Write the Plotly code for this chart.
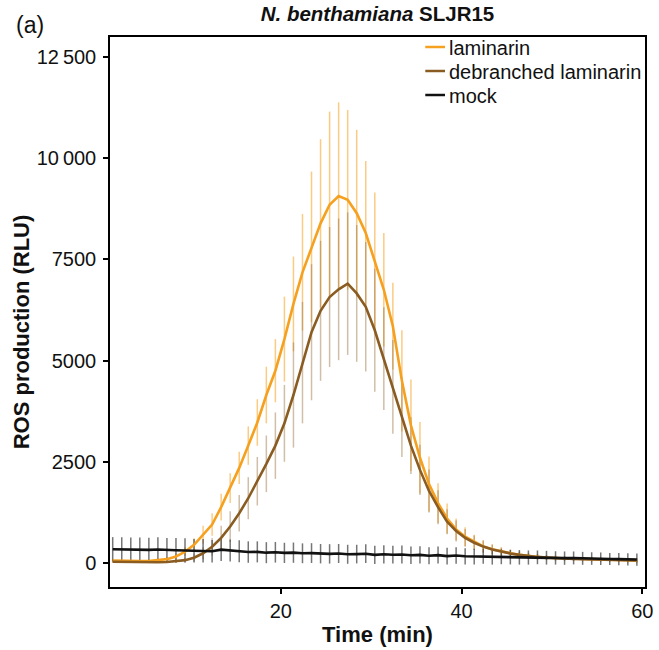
import plotly.graph_objects as go

# time points (min)
time_min = [1.4, 2.4, 3.4, 4.4, 5.4, 6.4, 7.4, 8.4, 9.4, 10.4,
            11.4, 12.4, 13.4, 14.4, 15.4, 16.4, 17.4, 18.4, 19.4, 20.4,
            21.4, 22.4, 23.4, 24.4, 25.4, 26.4, 27.4, 28.4, 29.4, 30.4,
            31.4, 32.4, 33.4, 34.4, 35.4, 36.4, 37.4, 38.4, 39.4, 40.4,
            41.4, 42.4, 43.4, 44.4, 45.4, 46.4, 47.4, 48.4, 49.4, 50.4,
            51.4, 52.4, 53.4, 54.4, 55.4, 56.4, 57.4, 58.4, 59.4]

laminarin = [60, 50, 45, 45, 50, 65, 95, 160, 280, 450,
             700, 950, 1380, 1850, 2350, 2900, 3470, 4150, 4750, 5530,
             6400, 7180, 7810, 8390, 8850, 9065, 8970, 8640, 8150, 7450,
             6750, 5850, 4500, 3400, 2600, 1950, 1480, 1100, 830, 650,
             520, 410, 340, 285, 240, 200, 170, 150, 130, 120,
             110, 100, 95, 90, 85, 80, 75, 70, 65]
laminarin_err = [40, 35, 35, 35, 40, 45, 55, 80, 110, 160,
                 220, 280, 330, 370, 400, 475, 575, 700, 780, 1050,
                 1170, 1440, 1860, 2080, 2300, 2315, 2220, 2060, 1780, 1700,
                 1400, 1070, 1250, 1130, 885, 680, 490, 370, 270, 230,
                 180, 150, 120, 100, 90, 80, 70, 65, 60, 60,
                 55, 55, 50, 50, 50, 50, 50, 50, 50]

debranched = [30, 25, 20, 20, 20, 20, 25, 40, 70, 130,
              240, 400, 620, 900, 1230, 1600, 2020, 2450, 2900, 3450,
              4150, 4950, 5700, 6230, 6570, 6760, 6900, 6660, 6330, 5750,
              5050, 4350, 3600, 2900, 2300, 1780, 1380, 1020, 790, 620,
              500, 405, 335, 280, 235, 200, 170, 150, 135, 120,
              110, 100, 95, 90, 85, 80, 75, 70, 60]
debranched_err = [25, 25, 20, 20, 20, 20, 25, 40, 60, 100,
                  150, 220, 300, 380, 450, 520, 600, 700, 820, 950,
                  1300, 1500, 1680, 1730, 1730, 1750, 1760, 1690, 1600, 1520,
                  1270, 1160, 980, 700, 620, 530, 420, 310, 260, 220,
                  180, 150, 120, 100, 90, 80, 70, 65, 60, 55,
                  55, 50, 50, 50, 50, 50, 50, 50, 50]

mock = [340, 335, 330, 330, 325, 335, 320, 315, 310, 300,
        305, 290, 330, 310, 290, 270, 275, 255, 265, 250,
        255, 240, 245, 230, 225, 235, 215, 220, 230, 200,
        215, 205, 210, 190, 200, 180, 195, 170, 185, 165,
        160, 170, 150, 155, 145, 140, 135, 140, 130, 125,
        120, 125, 115, 110, 105, 100, 95, 90, 85]
mock_err = [300, 300, 300, 300, 300, 300, 300, 300, 300, 290,
            290, 280, 280, 270, 270, 265, 260, 260, 255, 250,
            250, 245, 245, 240, 240, 235, 235, 230, 230, 225,
            225, 220, 220, 215, 215, 210, 210, 205, 205, 200,
            195, 190, 190, 185, 180, 180, 175, 170, 170, 165,
            165, 160, 160, 155, 155, 150, 150, 150, 150]

series_names = ["laminarin", "debranched laminarin", "mock"]

y_tickvals = [0, 2500, 5000, 7500, 10000, 12500]
y_ticktext = ["0", "2500", "5000", "7500", "10\u2009000", "12\u2009500"]
x_tickvals = [20, 40, 60]

FONT = "Arial, Liberation Sans, sans-serif"
C_LAM = "#F5A01E"
C_DEB = "#8A5C22"
C_MOCK = "#111111"
colors = [C_LAM, C_DEB, C_MOCK]

# plot area in pixels (for placing the hand-drawn legend and labels)
L, R, T, B = 110, 653, 37, 587
def px_x(px):
    return (px - L) / (R - L)
def px_y(py):
    return (B - py) / (B - T)

fig = go.Figure()

# error bars (drawn beneath the lines)
for y, e, col in [(laminarin, laminarin_err, "rgba(245,160,30,0.55)"),
                  (debranched, debranched_err, "rgba(150,110,60,0.45)"),
                  (mock, mock_err, "rgba(60,60,60,0.7)")]:
    fig.add_trace(go.Scatter(
        x=time_min, y=y, mode="markers",
        marker=dict(size=1, color="rgba(0,0,0,0)"),
        error_y=dict(type="data", array=e, color=col, thickness=1.5, width=0),
        showlegend=False, hoverinfo="skip"))

for y, name, col in zip([laminarin, debranched, mock], series_names, colors):
    fig.add_trace(go.Scatter(
        x=time_min, y=y, mode="lines", name=name,
        line=dict(color=col, width=2.6), showlegend=False))

# legend (drawn by hand so that its spacing matches)
shapes = []
annotations = []
for i, (name, col) in enumerate(zip(series_names, colors)):
    yc = 48 + 24 * i
    shapes.append(dict(type="line", xref="paper", yref="paper",
                       x0=px_x(430), x1=px_x(450), y0=px_y(yc - 1), y1=px_y(yc - 1),
                       line=dict(color=col, width=2.5)))
    annotations.append(dict(text=name, xref="paper", yref="paper",
                            x=px_x(452), y=px_y(yc), xanchor="left",
                            yanchor="middle", showarrow=False,
                            font=dict(size=20, color="#111")))

annotations.append(dict(text="(a)", xref="paper", yref="paper",
                        x=px_x(13), y=px_y(25), xanchor="left", yanchor="middle",
                        showarrow=False, font=dict(size=23, color="#111")))

# y-axis title
annotations.append(dict(text="<b>ROS production (RLU)</b>", xref="paper",
                        yref="paper", x=px_x(20), y=px_y(332),
                        xanchor="center", yanchor="middle", textangle=-90,
                        showarrow=False, font=dict(size=22, color="#111")))

fig.update_layout(
    width=659, height=650,
    margin=dict(l=L, r=659 - R, t=T, b=650 - B),
    paper_bgcolor="white", plot_bgcolor="white",
    font=dict(family=FONT, size=19, color="#111"),
    title=dict(text="<b><i>N. benthamiana</i> SLJR15</b>",
               font=dict(size=20.5), xref="paper", x=0.5, xanchor="center",
               yref="container", y=1 - 14 / 650, yanchor="middle"),
    showlegend=False,
    shapes=shapes,
    annotations=annotations,
)

fig.update_xaxes(
    range=[1.1, 60.3], tickvals=x_tickvals, ticks="outside", ticklen=5,
    tickwidth=1.5, tickcolor="black", showline=True, linewidth=1.5,
    linecolor="black", mirror=True, showgrid=False, zeroline=False,
    tickfont=dict(size=20), ticklabeloverflow="allow",
    title=dict(text="<b>Time (min)</b>", font=dict(size=22), standoff=6))
fig.update_yaxes(
    range=[-593, 12994], tickvals=y_tickvals, ticktext=y_ticktext,
    ticks="outside", ticklen=5, tickwidth=1.5, tickcolor="black",
    showline=True, linewidth=1.5, linecolor="black", mirror=True,
    showgrid=False, zeroline=False, tickfont=dict(size=20),
    ticklabelstandoff=3)

fig.write_html("out.html")
